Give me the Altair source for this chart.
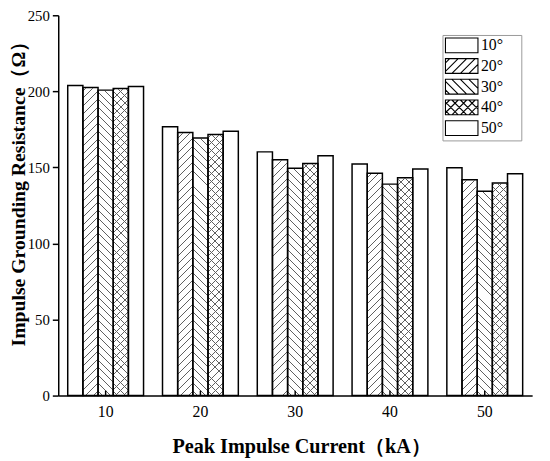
import altair as alt
import pandas as pd

currents = ["10", "20", "30", "40", "50"]
angles = ["10°", "20°", "30°", "40°", "50°"]
r10 = [203.8, 176.7, 160.2, 152.2, 149.8]
r20 = [202.5, 172.9, 155.0, 146.2, 141.9]
r30 = [200.8, 169.4, 149.4, 139.0, 134.3]
r40 = [201.9, 171.6, 152.5, 143.2, 139.8]
r50 = [203.2, 173.7, 157.6, 149.0, 145.8]
y_ticks = [0, 50, 100, 150, 200, 250]

rows = []
for a, vals in zip(angles, [r10, r20, r30, r40, r50]):
    for c, v in zip(currents, vals):
        rows.append({"current": c, "angle": a, "R": v})
df = pd.DataFrame(rows)

W, H = 481, 386
YMAX = 250
FONT = "Liberation Serif"
step = W / len(currents)
bar_w = step * 0.8 / len(angles)
LINE = "#606060"


def hatch_gradient(direction, bg):
    w, h = bar_w, H
    L = w + h
    lam = L / (w * w + h * h)
    p, lw = 8.0, 1.0
    stops = [{"offset": 0, "color": bg}]
    s = p / 2
    while s + lw < L:
        a, b = round(s / L, 6), round((s + lw) / L, 6)
        stops += [{"offset": a, "color": bg}, {"offset": a, "color": LINE},
                  {"offset": b, "color": LINE}, {"offset": b, "color": bg}]
        s += p
    stops.append({"offset": 1, "color": bg})
    if direction == "/":
        return {"gradient": "linear", "x1": 0, "y1": 0,
                "x2": round(lam * w, 6), "y2": round(lam * h, 6), "stops": stops}
    return {"gradient": "linear", "x1": 0, "y1": 1,
            "x2": round(lam * w, 6), "y2": round(1 - lam * h, 6), "stops": stops}


SYM = 225            # legend symbol size (unit = sqrt(SYM)/2 = 7.5 px)
def legend_path(kind):
    x0, x1, y0, y1 = -1.0, 3.4, -1.0, 1.0
    per = 1.15
    parts = [f"M{x0},{y0}H{x1}V{y1}H{x0}Z"]
    def fwd():
        c = x0 + y0 + per / 2
        while c < x1 + y1:
            xa, xb = max(x0, c - y1), min(x1, c - y0)
            if xb > xa:
                parts.append(f"M{xa:.3f},{c - xa:.3f}L{xb:.3f},{c - xb:.3f}")
            c += per
    def back():
        c = x0 - y1 + per / 2
        while c < x1 - y0:
            xa, xb = max(x0, c + y0), min(x1, c + y1)
            if xb > xa:
                parts.append(f"M{xa:.3f},{xa - c:.3f}L{xb:.3f},{xb - c:.3f}")
            c += per
    if kind in ("/", "x"):
        fwd()
    if kind in ("\\", "x"):
        back()
    parts.append("M8.7,0")   # invisible point widening the legend frame
    return "".join(parts)


paths = [legend_path(k) for k in ["", "/", "\\", "x", ""]]

ytitle = "Impulse Grounding Resistance（Ω）"
yscale = alt.Scale(domain=[0, YMAX], nice=False)
yaxis = alt.Axis(values=y_ticks, grid=False, tickSize=6, tickWidth=1.5, tickColor="black",
                 domainColor="black", domainWidth=1.5, labelFont=FONT, labelFontSize=15,
                 labelColor="black", labelPadding=3, titleFont=FONT, titleFontSize=20,
                 titleFontWeight="bold", titleColor="black", titlePadding=-1, titleY=176)
X = alt.X("current:N", sort=currents, title="Peak Impulse Current（kA）",
          scale=alt.Scale(paddingInner=0.2, paddingOuter=0.1),
          axis=alt.Axis(labelAngle=0, ticks=False, domainColor="black", domainWidth=1.5,
                        labelFont=FONT, labelFontSize=16, labelColor="black", labelPadding=8,
                        titleFont=FONT, titleFontSize=20.5, titleFontWeight="bold",
                        titleColor="black", titlePadding=18, titleX=W / 2 + 6))
XO = alt.XOffset("angle:N", sort=angles, scale=alt.Scale(paddingInner=0, paddingOuter=0))

base = alt.Chart(df).transform_calculate(top=str(YMAX), zero="0").encode(x=X, xOffset=XO)
Yfull = alt.Y("top:Q", scale=yscale, axis=yaxis, title=ytitle)

hatch_fwd = base.transform_filter(
    alt.FieldOneOfPredicate(field="angle", oneOf=["20°", "40°"])
).mark_bar(fill=hatch_gradient("/", "#ffffff"), strokeWidth=0).encode(y=Yfull, y2="zero:Q")

hatch_back = base.transform_filter(
    alt.FieldEqualPredicate(field="angle", equal="30°")
).mark_bar(fill=hatch_gradient("\\", "#ffffff"), strokeWidth=0).encode(y=Yfull, y2="zero:Q")

hatch_cross = base.transform_filter(
    alt.FieldEqualPredicate(field="angle", equal="40°")
).mark_bar(fill=hatch_gradient("\\", "rgba(255,255,255,0)"), strokeWidth=0).encode(y=Yfull, y2="zero:Q")

cover = base.mark_bar(fill="white", stroke="white", strokeWidth=1.5).encode(
    y=alt.Y("R:Q", scale=yscale, axis=yaxis, title=ytitle), y2="top:Q")

outline = base.mark_bar(fillOpacity=0, stroke="black", strokeWidth=1.5).encode(
    y=alt.Y("R:Q", scale=yscale, axis=yaxis, title=ytitle))

xticks = alt.Chart(pd.DataFrame({"current": currents})).mark_rule(
    color="black", strokeWidth=1.5).encode(x=X, y=alt.value(H), y2=alt.value(H - 5))

legend_layer = alt.Chart(df).transform_filter("false").mark_point(
    filled=False, color="black", strokeWidth=1.1, size=SYM, opacity=1
).encode(
    shape=alt.Shape("angle:N", scale=alt.Scale(domain=angles, range=paths),
                    legend=alt.Legend(title=None, orient="none", legendX=390, legendY=20,
                                      padding=2, rowPadding=0, labelOffset=20,
                                      labelFont=FONT, labelFontSize=16, labelColor="black",
                                      strokeColor="#999999", fillColor="white",
                                      symbolStrokeColor="black",
                                      symbolStrokeWidth=1.1, symbolSize=SYM, symbolOpacity=1))
)

chart = alt.layer(hatch_fwd, hatch_back, hatch_cross, cover, outline, xticks, legend_layer).properties(
    width=W, height=H,
    padding={"left": 51, "top": 4, "right": 10, "bottom": 62},
    autosize=alt.AutoSizeParams(type="none"),
).configure_view(strokeWidth=0)

chart.save("out.html", embed_options={"renderer": "svg", "actions": False})
